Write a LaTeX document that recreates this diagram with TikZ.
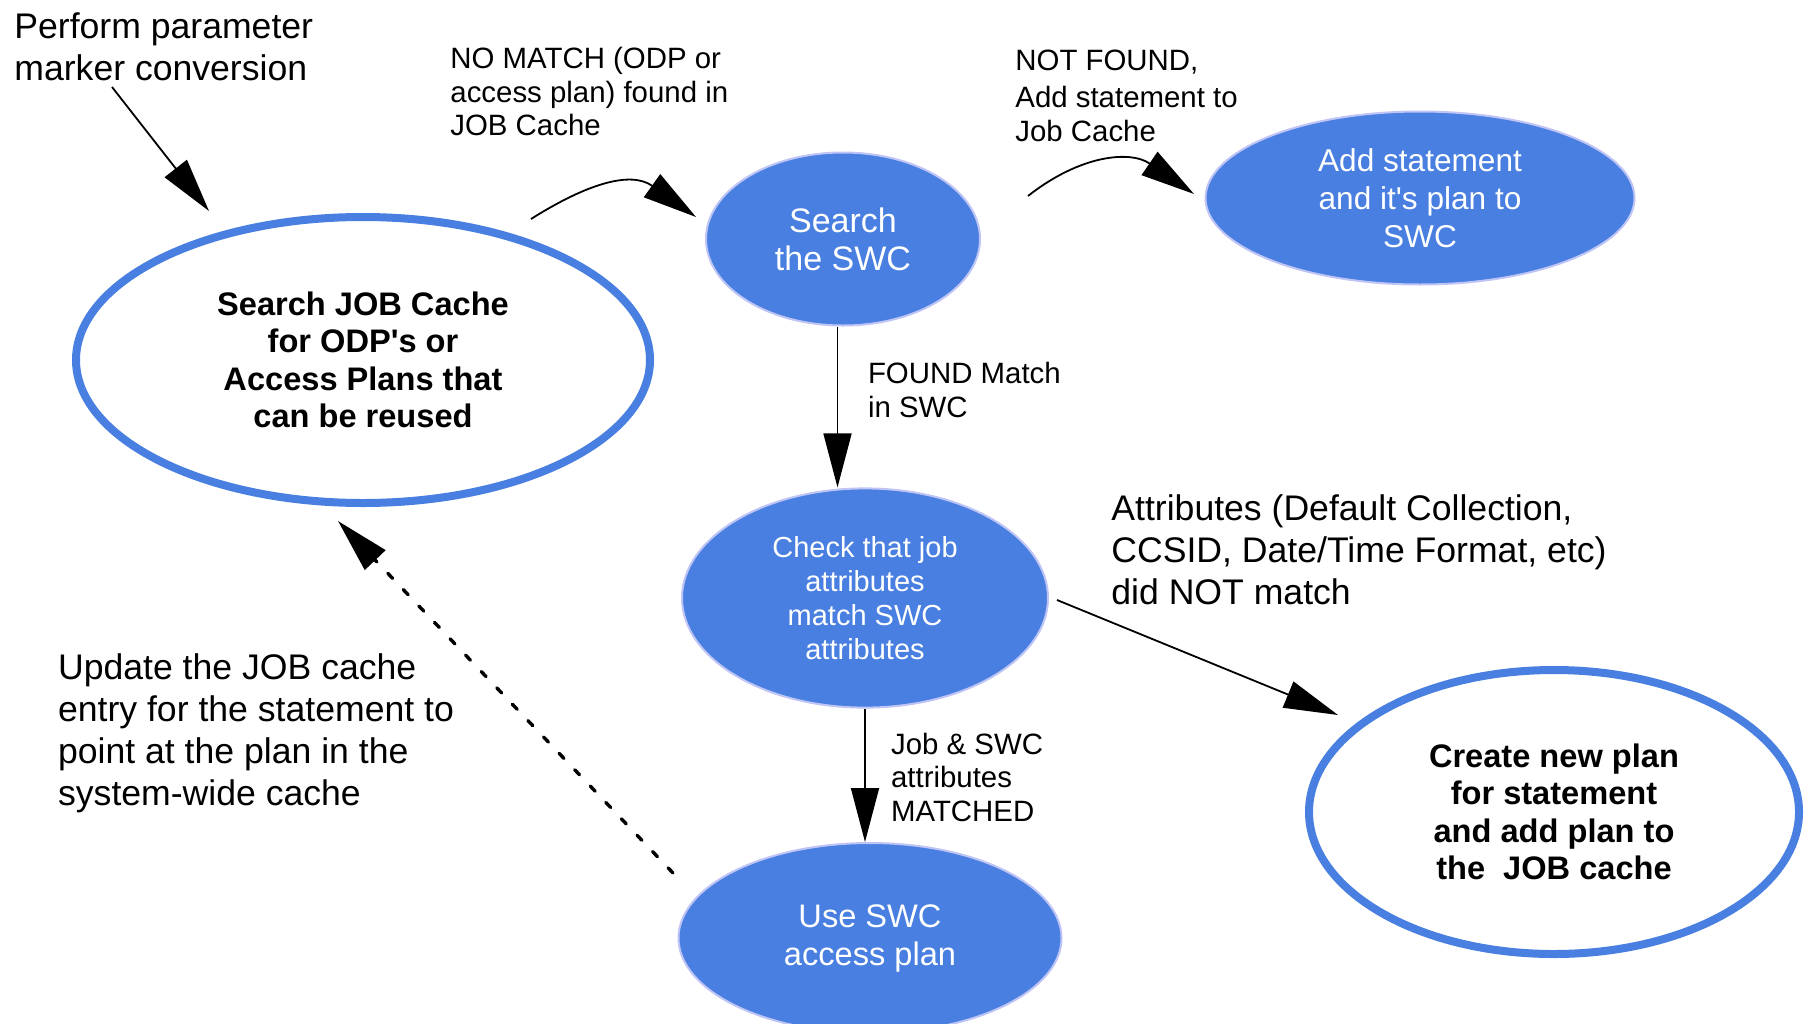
\documentclass[tikz,border=0pt]{standalone}
\usepackage{fontspec}
\setmainfont{Liberation Sans}[Ligatures=TeXOff]
\usetikzlibrary{shapes.geometric,arrows.meta}
\definecolor{cblue}{RGB}{72,127,224}
\definecolor{clav}{RGB}{190,196,245}
\begin{document}
\begin{tikzpicture}[x=0.5pt,y=-0.5pt,
  conn/.style={line width=0.9pt,-{Triangle[length=27pt,width=14pt]}},
  bluefill/.style={ellipse,fill=cblue,draw=clav,line width=1pt,text=white,align=center,inner sep=0pt},
  whiteell/.style={ellipse,draw=cblue,line width=4pt,fill=white,align=center,inner sep=0pt,font=\bfseries\fontsize{16.3}{18.7}\selectfont},
  lbl/.style={anchor=north west,align=left,inner sep=0pt},
  small/.style={font=\fontsize{14.7}{16.7}\selectfont},
  big/.style={font=\fontsize{17.8}{21}\selectfont}]
\useasboundingbox[fill=white] (0,0) rectangle (1809,1023);
% ellipses
\node[whiteell,minimum width=287pt,minimum height=143pt] (J) at (363,360) {Search JOB Cache\\for ODP's or\\Access Plans that\\can be reused};
\node[bluefill,minimum width=137pt,minimum height=86.5pt,font=\fontsize{17}{19}\selectfont] (S) at (843,239) {Search\\the SWC};
\node[bluefill,minimum width=214.5pt,minimum height=86.5pt,font=\fontsize{15.8}{19}\selectfont] (A) at (1420,198) {Add statement\\and it's plan to\\SWC};
\node[bluefill,minimum width=183pt,minimum height=109.6pt,font=\fontsize{14.5}{16.9}\selectfont] (C) at (865,598) {Check that job\\attributes\\match SWC\\attributes};
\node[bluefill,minimum width=191.5pt,minimum height=95pt,font=\fontsize{16.3}{19}\selectfont] (U) at (870,938) {Use SWC\\access plan};
\node[whiteell,minimum width=245pt,minimum height=142pt] (N) at (1554,812) {Create new plan\\for statement\\and add plan to\\the\ \ JOB cache};
% labels
\node[lbl,big] (t1) at (14,12.6) {Perform parameter\\marker conversion};
\node[lbl,small] (t2) at (450,47) {NO MATCH (ODP or\\access plan) found in\\JOB Cache};
\node[lbl,small] (t3) at (1015,49.5) {NOT FOUND,\\[2pt]Add statement to\\Job Cache};
\node[lbl,small] (t4) at (867.6,362) {FOUND Match\\in SWC};
\node[lbl,small] (t5) at (890.7,732.5) {Job \& SWC\\attributes\\MATCHED};
\node[lbl,big] (t6) at (1111,494) {Attributes (Default Collection,\\CCSID, Date/Time Format, etc)\\did NOT match};
\node[lbl,big] (t7) at (57.7,653) {Update the JOB cache\\entry for the statement to\\point at the plan in the\\system-wide cache};
% connectors
\coordinate (p1) at (112,87);
\coordinate (p1e) at (209,211);
\draw[conn] (p1) -- (p1e);
\coordinate (c2s) at (531,219);
\coordinate (c2e) at (696,217);
\draw[conn] (c2s) .. controls (585,185) and (630,170) .. (c2e);
\coordinate (c3s) at (1028,196);
\coordinate (c3e) at (1194,194);
\draw[conn] (c3s) .. controls (1080,155) and (1130,150) .. (c3e);
\coordinate (xl) at (837.5,0);
\draw[conn] (S.south -| xl) -- (C.north -| xl);
\draw[conn] (C.south) -- (C.south |- U.north);
\coordinate (c6s) at (1057,600);
\coordinate (c6e) at (1338,715);
\draw[conn] (c6s) -- (c6e);
\coordinate (c7s) at (673,873);
\coordinate (c7e) at (338,521);
\draw[conn,line width=1.7pt,line cap=round,dash pattern=on 3.5pt off 7.8pt] (c7s) -- (c7e);
\end{tikzpicture}
\end{document}
